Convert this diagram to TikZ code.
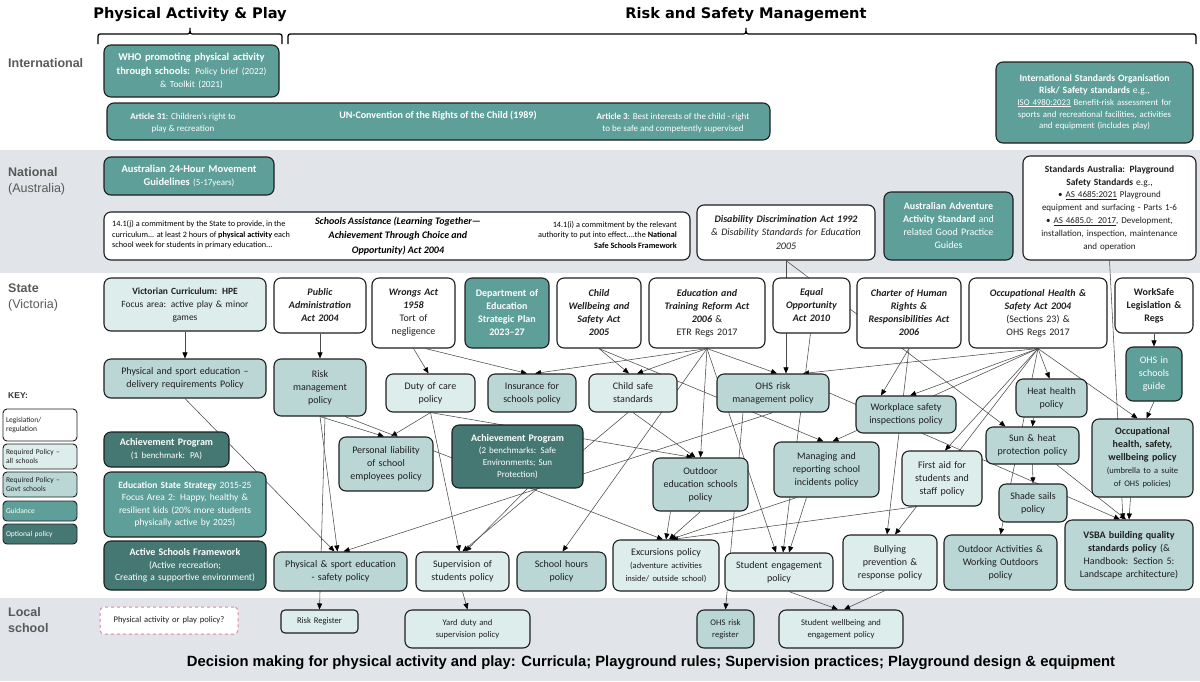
\documentclass[tikz,border=0pt]{standalone}
\usepackage{fontspec}
\setmainfont{Carlito}
\newfontfamily\hdr{Liberation Sans}
\newfontfamily\hdrb{DejaVu Sans}
\usetikzlibrary{arrows.meta,calc}
\definecolor{guidc}{HTML}{5E9F99}
\definecolor{optc}{HTML}{467873}
\definecolor{rgovc}{HTML}{BAD7D6}
\definecolor{rallc}{HTML}{DDEDEC}
\definecolor{bandc}{HTML}{E1E4E8}
\definecolor{edgec}{HTML}{4A4A4A}
\definecolor{bordc}{HTML}{1E1E1E}
\definecolor{lblc}{HTML}{595959}
\definecolor{pinkc}{HTML}{E7809F}
\pgfdeclarelayer{bg}\pgfdeclarelayer{edges}\pgfsetlayers{bg,edges,main}
\newcommand\fs[2]{\fontsize{#1}{#2}\selectfont}
\newcommand\bx[7]{%
 \pgfmathsetmacro\bxw{#5-#3}\pgfmathsetmacro\bxh{#6-#4}%
 \pgfmathsetmacro\bxtw{#5-#3-6}%
 \pgfmathsetmacro\bxcx{(#3+#5)/2}\pgfmathsetmacro\bxcy{(#4+#6)/2}%
 \node[#2, minimum width=\bxw pt, minimum height=\bxh pt, text width=\bxtw pt] (#1) at (\bxcx,\bxcy) {#7};}
\tikzset{
 box/.style={draw=bordc, line width=1.1pt, rounded corners=7pt, inner sep=2pt, align=center, text=black!88, font=\fs{10}{13}},
 slegis/.style={box, fill=white},
 sall/.style={box, fill=rallc},
 sgov/.style={box, fill=rgovc},
 sguid/.style={box, fill=guidc, text=white},
 sopt/.style={box, fill=optc, text=white},
 spink/.style={box, fill=white, draw=pinkc, dashed, line width=1pt},
 keyb/.style={rounded corners=4pt, line width=0.9pt, align=left, font=\fs{7.5}{9.5}},
 conn/.style={draw=edgec, line width=0.55pt, -{Triangle[length=6pt,width=5pt,color=black]}},
 rowl/.style={font=\hdr\fs{12.5}{16}, text=lblc, align=left, anchor=west, inner sep=0pt},
 brc/.style={line width=1.3pt, draw=black},
 plain/.style={inner sep=0pt, text=white},
 hdrs/.style={font=\hdrb\bfseries\fs{14.6}{18}},
}
\begin{document}
\begin{tikzpicture}[x=1pt,y=-1pt]
\useasboundingbox (0,0) rectangle (1200,681);
\begin{pgfonlayer}{bg}
\fill[fill=bandc] (0,150) rectangle (1200,273);
\fill[fill=bandc] (0,598) rectangle (1200,681);
\end{pgfonlayer}

% headers
\node[hdrs] (hpa) at (190,15) {Physical Activity \& Play};
\node[hdrs] (hrs) at (746,15) {Risk and Safety Management};
\draw[brc] (98,44) -- (98,39) .. controls (98,34) .. (103,34) -- (185,34) .. controls (190,34) .. (190,28) .. controls (190,34) .. (195,34) -- (277,34) .. controls (282,34) .. (282,39) -- (282,44);
\draw[brc] (288,44) -- (288,39) .. controls (288,34) .. (293,34) -- (741,34) .. controls (746,34) .. (746,28) .. controls (746,34) .. (751,34) -- (1191,34) .. controls (1196,34) .. (1196,39) -- (1196,44);

% row labels
\node[rowl] (lint) at (8,63) {\textbf{International}};
\node[rowl] (lnat) at (8,181) {\textbf{National}\\(Australia)};
\node[rowl] (lsta) at (8,297) {\textbf{State}\\(Victoria)};
\node[rowl] (lloc) at (8,620) {\textbf{Local}\\\textbf{school}};

% international
\bx{who}{sguid,font=\fs{10.5}{13.5}}{104}{45}{279}{97}{\textbf{WHO promoting physical activity}\\\textbf{through schools:} {\fs{9.3}{12}Policy brief (2022)}\\{\fs{9.3}{12}\& Toolkit (2021)}}
\bx{un}{sguid}{107}{103}{770}{140}{}
\node[plain, align=center, font=\fs{9}{11.5}] (un31) at (183,123) {\textbf{Article 31}: Children’s right to\\play \& recreation};
\node[plain, font=\fs{10}{12}\bfseries] (unm) at (438,116) {UN-Convention of the Rights of the Child (1989)};
\node[plain, align=center, font=\fs{9}{11.5}] (un3) at (673,123) {\textbf{Article 3}: Best interests of the child - right\\to be safe and competently supervised};
\bx{iso}{sguid,font=\fs{8.8}{11.8}}{996}{62}{1193}{143}{{\fs{9.7}{12}\textbf{International Standards Organisation}}\\{\fs{9.7}{12}\textbf{Risk/ Safety standards} e.g.,}\\\underline{ISO 4980:2023} Benefit-risk assessment for\\sports and recreational facilities, activities\\and equipment (includes play)}

% national
\bx{move}{sguid,font=\fs{10.5}{13.5}}{104}{157}{274}{195}{\textbf{Australian 24-Hour Movement}\\\textbf{Guidelines} {\fs{9}{12}(5-17years)}}
\bx{sa}{slegis}{104}{212}{690}{260}{}
\node[inner sep=0pt, anchor=west, align=left, font=\fs{8.2}{10.5}] (sal) at (112,235) {14.1(j) a commitment by the State to provide, in the\\curriculum... at least 2 hours of \textbf{physical activity} each\\school week for students in primary education...};
\node[inner sep=0pt, align=center, font=\fs{10}{14.5}\bfseries\itshape] (sac) at (398,236) {Schools Assistance (Learning Together—\\Achievement Through Choice and\\Opportunity) Act 2004};
\node[inner sep=0pt, anchor=east, align=right, font=\fs{8.2}{10.5}] (sar) at (677,235) {14.1(i) a commitment by the relevant\\authority to put into effect....the \textbf{National}\\\textbf{Safe Schools Framework}};
\bx{disab}{slegis,font=\fs{10}{13.5}}{697}{205}{875}{260}{\textbf{\textit{Disability Discrimination Act 1992}}\\\textit{\& Disability Standards for Education}\\\textit{2005}}
\bx{adv}{sguid}{884}{192}{1013}{260}{\textbf{Australian Adventure}\\\textbf{Activity Standard} and\\related Good Practice\\Guides}
\bx{stdaus}{slegis,font=\fs{9}{12.8}}{1023}{156}{1196}{260}{{\fs{9.5}{13}\textbf{Standards Australia: Playground}}\\{\fs{9.5}{13}\textbf{Safety Standards} e.g.,}\\• \underline{AS 4685:2021} Playground\\equipment and surfacing - Parts 1-6\\• \underline{AS 4685.0: 2017}, Development,\\installation, inspection, maintenance\\and operation}

% state row 1
\bx{viccurr}{sall,font=\fs{9.5}{13}}{104}{278}{266}{331}{\textbf{Victorian Curriculum: HPE}\\Focus area: active play \& minor\\games}
\bx{pubadmin}{slegis}{274}{278}{366}{333}{\textbf{\textit{Public}}\\\textbf{\textit{Administration}}\\\textbf{\textit{Act 2004}}}
\bx{wrongs}{slegis}{372}{278}{455}{348}{\textbf{\textit{Wrongs Act}}\\\textbf{\textit{1958}}\\Tort of\\negligence}
\bx{deptedu}{sguid}{465}{278}{549}{348}{\textbf{Department of}\\\textbf{Education}\\\textbf{Strategic Plan}\\\textbf{2023–27}}
\bx{childwell}{slegis}{557}{278}{641}{348}{\textbf{\textit{Child}}\\\textbf{\textit{Wellbeing and}}\\\textbf{\textit{Safety Act}}\\\textbf{\textit{2005}}}
\bx{etra}{slegis}{649}{278}{765}{348}{\textbf{\textit{Education and}}\\\textbf{\textit{Training Reform Act}}\\\textbf{\textit{2006}} \&\\ETR Regs 2017}
\bx{equalopp}{slegis}{773}{278}{850}{333}{\textbf{\textit{Equal}}\\\textbf{\textit{Opportunity}}\\\textbf{\textit{Act 2010}}}
\bx{charter}{slegis}{857}{278}{961}{348}{\textbf{\textit{Charter of Human}}\\\textbf{\textit{Rights \&}}\\\textbf{\textit{Responsibilities Act}}\\\textbf{\textit{2006}}}
\bx{ohsact}{slegis}{969}{278}{1107}{348}{\textbf{\textit{Occupational Health \&}}\\\textbf{\textit{Safety Act 2004}}\\(Sections 23) \&\\OHS Regs 2017}
\bx{worksafe}{slegis}{1115}{278}{1193}{333}{\textbf{WorkSafe}\\\textbf{Legislation \&}\\\textbf{Regs}}

% state row 2
\bx{psedel}{sgov}{104}{359}{266}{398}{Physical and sport education –\\delivery requirements Policy}
\bx{riskmgmt}{sgov}{274}{359}{366}{416}{Risk\\management\\policy}
\bx{dutycare}{sall}{386}{374}{475}{412}{Duty of care\\policy}
\bx{insurance}{sgov}{488}{374}{576}{412}{Insurance for\\schools policy}
\bx{childsafe}{sall}{589}{374}{677}{412}{Child safe\\standards}
\bx{ohsrisk}{sgov}{717}{374}{829}{412}{OHS risk\\management policy}
\bx{workinsp}{sgov}{856}{396}{956}{433}{Workplace safety\\inspections policy}
\bx{heathealth}{sgov}{1016}{379}{1087}{417}{Heat health\\policy}
\bx{ohsguide}{sguid}{1126}{347}{1182}{401}{OHS in\\schools\\guide}
\bx{ohspolicy}{sgov}{1092}{419}{1193}{497}{\textbf{Occupational}\\\textbf{health, safety,}\\\textbf{wellbeing policy}\\{\fs{8.5}{11}(umbrella to a suite}\\{\fs{8.5}{11}of OHS policies)}}

% state row 3
\bx{achpa}{sopt}{104}{432}{229}{467}{\textbf{Achievement Program}\\{\fs{9}{12}(1 benchmark: PA)}}
\bx{edstate}{sguid,font=\fs{9.5}{12.5}}{104}{472}{266}{537}{\textbf{Education State Strategy} 2015-25\\Focus Area 2: Happy, healthy \&\\resilient kids (20\% more students\\physically active by 2025)}
\bx{activesch}{sopt,font=\fs{9.5}{12.5}}{104}{541}{266}{590}{{\fs{10}{12.5}\textbf{Active Schools Framework}}\\(Active recreation;\\Creating a supportive environment)}
\bx{persliab}{sgov}{339}{437}{433}{491}{Personal liability\\of school\\employees policy}
\bx{achsafe}{sopt,font=\fs{9}{12}}{452}{425}{583}{488}{{\fs{10}{12}\textbf{Achievement Program}}\\(2 benchmarks: Safe\\Environments; Sun\\Protection)}
\bx{outdoored}{sgov}{653}{458}{748}{511}{Outdoor\\education schools\\policy}
\bx{managing}{sgov}{774}{442}{879}{497}{Managing and\\reporting school\\incidents policy}
\bx{firstaid}{sall}{902}{451}{982}{506}{First aid for\\students and\\staff policy}
\bx{sunheat}{sgov}{986}{427}{1079}{464}{Sun \& heat\\protection policy}
\bx{shade}{sgov}{999}{484}{1067}{522}{Shade sails\\policy}

% state row 4
\bx{psesafe}{sgov}{274}{552}{407}{591}{Physical \& sport education\\- safety policy}
\bx{superv}{sall}{416}{552}{509}{591}{Supervision of\\students policy}
\bx{schoolhrs}{sgov}{517}{552}{606}{591}{School hours\\policy}
\bx{excursions}{sall}{613}{540}{719}{591}{Excursions policy\\{\fs{8.5}{11}(adventure activities}\\{\fs{8.5}{11}inside/ outside school)}}
\bx{studeng}{sall}{725}{553}{833}{591}{Student engagement\\policy}
\bx{bullying}{sall}{843}{535}{937}{590}{Bullying\\prevention \&\\response policy}
\bx{outdooract}{sgov}{944}{535}{1057}{590}{Outdoor Activities \&\\Working Outdoors\\policy}
\bx{vsba}{sgov}{1065}{520}{1193}{590}{\textbf{VSBA building quality}\\\textbf{standards policy} (\&\\Handbook: Section 5:\\Landscape architecture)}

% local
\bx{papolicy}{spink,font=\fs{8.6}{11},rounded corners=4pt}{100}{607}{238}{634}{Physical activity or play policy?}
\bx{riskreg}{sall,font=\fs{8.6}{11},rounded corners=4pt}{281}{610}{358}{633}{Risk Register}
\bx{yardduty}{sall,font=\fs{8.6}{12}}{405}{610}{530}{648}{Yard duty and\\supervision policy}
\bx{ohsreg}{sgov,font=\fs{8.6}{12}}{697}{610}{754}{648}{OHS risk\\register}
\bx{studwb}{sall,font=\fs{8.6}{12}}{779}{610}{903}{648}{Student wellbeing and\\engagement policy}
\node[font=\hdr\bfseries\fs{14.8}{17}] (dec) at (651,663) {Decision making for physical activity and play: Curricula; Playground rules; Supervision practices; Playground design \& equipment};

% key
\node[anchor=west, font=\hdr\bfseries\fs{8.5}{10}, text=black!80, inner sep=0pt] (keyt) at (8,396) {KEY:};
\bx{key1}{slegis,keyb}{3}{409}{77}{441}{Legislation/\\regulation}
\bx{key2}{sall,keyb}{3}{444}{77}{469}{Required Policy –\\all schools}
\bx{key3}{sgov,keyb}{3}{472}{77}{497}{Required Policy –\\Govt schools}
\bx{key4}{sguid,keyb}{3}{501}{77}{521}{Guidance}
\bx{key5}{sopt,keyb}{3}{524}{77}{544}{Optional policy}

% connectors
\begin{pgfonlayer}{edges}
\draw[conn] (viccurr.south) -- (psedel.north);
\draw[conn] (pubadmin.south) -- (riskmgmt.north);
\draw[conn] (worksafe.south) -- (ohsguide.north);
\draw[conn] (wrongs.south) -- ([xshift=-2pt]dutycare.north);
\draw[conn] ([xshift=12pt]wrongs.south) -- ([xshift=-5pt]insurance.north);
\draw[conn] (etra.south) -- ([xshift=3pt]insurance.north);
\draw[conn] (childwell.south) -- ([xshift=-4pt]childsafe.north);
\draw[conn] (etra.south) -- ([xshift=4pt]childsafe.north);
\draw[conn] (etra.south) -- ([xshift=4pt]ohsrisk.north);
\draw[conn] (disab.south) -- ([xshift=13pt]ohsrisk.north);
\draw[conn] (ohsact.south) -- ([xshift=30pt]ohsrisk.north);
\draw[conn] (childwell.south) -- ([xshift=-3pt]managing.north);
\draw[conn] (ohsact.south) -- ([xshift=6pt]managing.north);
\draw[conn] (etra.south) -- (outdoored.north);
\draw[conn] (childsafe.south) -- ([xshift=-5pt]outdoored.north);
\draw[conn] (dutycare.south) -- ([xshift=-8pt]outdoored.north);
\draw[conn] (etra.south) -- ([xshift=1pt]schoolhrs.north);
\draw[conn] (etra.south) -- ([xshift=-3pt]studeng.north);
\draw[conn] ([xshift=-1pt]equalopp.south) -- ([xshift=4pt]studeng.north);
\draw[conn] ([xshift=-20pt]managing.south) -- ([xshift=10pt]studeng.north);
\draw[conn] (charter.south) -- ([xshift=-25pt]workinsp.north);
\draw[conn] (ohsact.south) -- ([xshift=4pt]workinsp.north);
\draw[conn] (ohsact.south) -- ([xshift=3pt]firstaid.north);
\draw[conn] (ohsact.south) -- ([xshift=5pt]bullying.north);
\draw[conn] (charter.south) -- ([xshift=-3pt]bullying.north);
\draw[conn] (ohsact.south) -- ([xshift=-2pt]heathealth.north);
\draw[conn] ([xshift=-18pt]heathealth.south) -- (sunheat.north);
\draw[conn] (sunheat.south) -- (shade.north);
\draw[conn] (ohsact.south) -- (outdooract.north);
\draw[conn] (ohsact.south) -- ([xshift=-5pt]ohspolicy.north);
\draw[conn] (ohsguide.south) -- ([xshift=4pt]ohspolicy.north);
\draw[conn] (stdaus.south) -- ([xshift=-6pt]vsba.north);
\draw[conn] ([xshift=-12pt]ohspolicy.south) -- (vsba.north);
\draw[conn] ([xshift=24pt]sunheat.south) -- ([xshift=-3pt]vsba.north);
\draw[conn] (ohsrisk.east) -- ([xshift=-9pt]vsba.north);
\draw[conn] (disab.south) -- ([xshift=-27pt]sunheat.north);
\draw[conn] (dutycare.south) -- ([xshift=5pt]persliab.north);
\draw[conn] (riskmgmt.south) -- ([xshift=-2pt]persliab.north);
\draw[conn] (riskmgmt.south) -- ([xshift=-3pt]psesafe.north);
\draw[conn] ([xshift=5pt]riskmgmt.south) -- (riskreg.north);
\draw[conn] (psedel.south) -- ([xshift=-6pt]psesafe.north);
\draw[conn] (ohsrisk.south) -- ([xshift=3pt]psesafe.north);
\draw[conn] (dutycare.south) -- ([xshift=-3pt]superv.north);
\draw[conn] ([xshift=10pt]achsafe.south) -- ([xshift=3pt]superv.north);
\draw[conn] ([xshift=-5pt]childsafe.south) -- (superv.north);
\draw[conn] ([xshift=25pt]riskmgmt.south) -- ([xshift=-3pt]excursions.north);
\draw[conn] ([xshift=-30pt]outdoored.south) -- (excursions.north);
\draw[conn] (outdoored.south) -- ([xshift=3pt]excursions.north);
\draw[conn] ([xshift=-25pt]firstaid.south) -- ([xshift=6pt]excursions.north);
\draw[conn] ([xshift=-30pt]managing.south) -- ([xshift=4pt]excursions.north);
\draw[conn] ([xshift=-30pt]ohsrisk.south) -- (ohsreg.north);
\draw[conn] (superv.south) -- (yardduty.north);
\draw[conn] ([xshift=10pt]studeng.south) -- ([xshift=-3pt]studwb.north);
\draw[conn] ([xshift=-5pt]bullying.south) -- ([xshift=3pt]studwb.north);
\end{pgfonlayer}
\end{tikzpicture}
\end{document}
